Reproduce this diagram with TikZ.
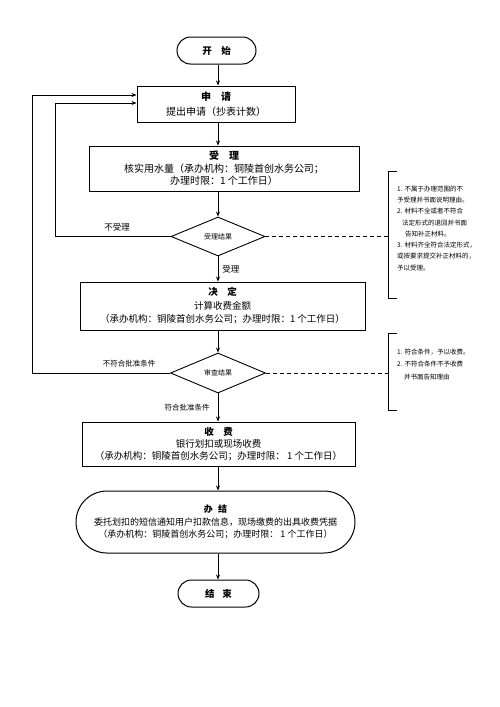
\documentclass[tikz,border=0pt]{standalone}
\usepackage{fontspec}
\setmainfont{Noto Sans CJK SC}
\usetikzlibrary{arrows.meta,shapes.geometric}
\tikzset{
  box/.style={draw, line width=1pt, inner sep=0pt, align=center},
  dec/.style={draw, line width=0.9pt, diamond, inner sep=0pt, font=\fontsize{7}{8}\selectfont},
  arr/.style={line width=0.9pt, -{Stealth[length=5pt,width=4pt]}},
  lbl/.style={inner sep=0pt, font=\fontsize{8.5}{9}\selectfont},
  lbls/.style={inner sep=0pt, font=\fontsize{7.5}{9}\selectfont},
  note/.style={inner sep=0pt, anchor=north west, align=left},
  dashline/.style={line width=0.9pt, dash pattern=on 4pt off 3pt},
  brk/.style={line width=1pt},
}
\begin{document}
\begin{tikzpicture}[x=1pt,y=-1pt]
\useasboundingbox[fill=white] (0,0) rectangle (500,707);
\coordinate (spine) at (218,0);

\node[box, rounded corners=13.5pt, minimum width=79pt, minimum height=27pt,
  font=\fontsize{9.5}{11}\selectfont] (start) at (216.5,50.5) {\textbf{开\hspace{1em}始}};

\node[box, minimum width=158pt, minimum height=36pt, font=\fontsize{10}{15}\selectfont]
  (shen) at (216,104) {\textbf{申\hspace{1em}请}\\提出申请（抄表计数）};

\node[box, minimum width=270pt, minimum height=45pt, font=\fontsize{10}{12.5}\selectfont]
  (shou) at (224,168.5) {\textbf{受\hspace{1em}理}\\核实用水量（承办机构：铜陵首创水务公司；\\办理时限：1 个工作日）};

\node[dec, minimum width=94pt, minimum height=39pt] (d1) at (218,236.5) {受理结果};

\node[box, minimum width=285pt, minimum height=48pt, font=\fontsize{9.5}{13.5}\selectfont]
  (jue) at (222.5,306) {\textbf{决\hspace{1em}定}\\计算收费金额\\（承办机构：铜陵首创水务公司；办理时限：1 个工作日）};

\node[dec, minimum width=95pt, minimum height=40pt] (d2) at (218,373) {审查结果};

\node[box, minimum width=273pt, minimum height=44pt, font=\fontsize{9.5}{12}\selectfont]
  (fee) at (218.5,444) {\textbf{收\hspace{1em}费}\\银行划扣或现场收费\\（承办机构：铜陵首创水务公司；办理时限：\ 1 个工作日）};

\node[box, rounded corners=31pt, minimum width=279pt, minimum height=62pt, font=\fontsize{9}{12.5}\selectfont]
  (ban) at (215.5,522) {\textbf{办\hspace{0.6em}结}\\委托划扣的短信通知用户扣款信息，现场缴费的出具收费凭据\\（承办机构：铜陵首创水务公司；办理时限：\ 1 个工作日）};

\node[box, rounded corners=13.5pt, minimum width=81pt, minimum height=27pt,
  font=\fontsize{9.5}{11}\selectfont] (end) at (218.5,593.5) {\textbf{结\hspace{0.8em}束}};

% main flow
\draw[arr] (start.south -| spine) -- (shen.north -| spine);
\draw[arr] (shen.south -| spine) -- (shou.north -| spine);
\draw[arr] (shou.south -| spine) -- (d1.north);
\draw[arr] (d1.south) -- (jue.north -| spine) node[lbl, midway, right=4pt] (lshou) {受理};
\draw[arr] (jue.south -| spine) -- (d2.north);
\draw[arr] (d2.south) -- (fee.north -| spine) node[lbls, midway, left=8pt] (lfuhe) {符合批准条件};
\draw[arr] (fee.south -| spine) -- (ban.north -| spine);
\draw[arr] (ban.south -| spine) -- (end.north -| spine);

% loops back
\draw[arr] (d1.west) -- ++(-115,0) |- ([yshift=1pt]shen.west);
\node[lbl] (lbsl) at (117,227) {不受理};
\draw[arr] (d2.west) -- ++(-138,0) |- ([yshift=9pt]shen.west);
\node[lbls] (lbfh) at (129,364) {不符合批准条件};

% note brackets
\coordinate (b1t) at (388,171);
\coordinate (b1b) at (388,298);
\draw[brk] ([xshift=9pt]b1t) -- (b1t) -- (b1b) -- ([xshift=9pt]b1b);
\draw[dashline] (d1.east) -- (d1.east -| b1t);
\node[note, font=\fontsize{6.5}{11.3}\selectfont] (n1) at (397,185.5) {%
1. 不属于办理范围的不\\
予受理并书面说明理由。\\
2. 材料不全或者不符合\\
\hspace*{5pt}法定形式的退回并书面\\
\hspace*{8pt}告知补正材料。\\
3. 材料齐全符合法定形式，\\
或按要求提交补正材料的，\\
予以受理。};

\coordinate (b2t) at (388,333);
\coordinate (b2b) at (388,410);
\draw[brk] ([xshift=9pt]b2t) -- (b2t) -- (b2b) -- ([xshift=9pt]b2b);
\draw[dashline] (d2.east) -- (d2.east -| b2t);
\node[note, font=\fontsize{6.5}{12.5}\selectfont] (n2) at (397,348.5) {%
1. 符合条件，予以收费。\\
2. 不符合条件不予收费\\
\hspace*{7pt}并书面告知理由};
\end{tikzpicture}
\end{document}
